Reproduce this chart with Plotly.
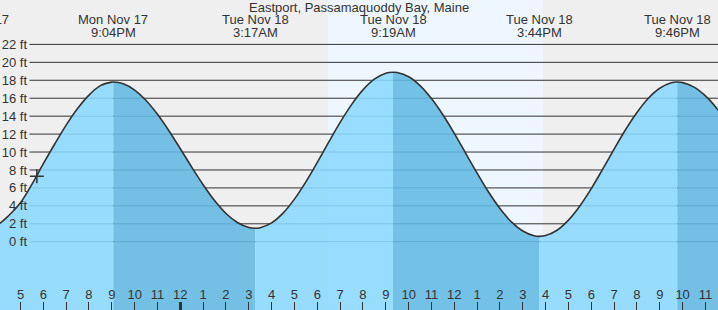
import pandas as pd
import plotly.graph_objects as go

title = "Eastport, Passamaquoddy Bay, Maine"

# Tide height (ft), every half hour
times = [
    "2025-11-17 16:00", "2025-11-17 16:30", "2025-11-17 17:00", "2025-11-17 17:30",
    "2025-11-17 18:00", "2025-11-17 18:30", "2025-11-17 19:00", "2025-11-17 19:30",
    "2025-11-17 20:00", "2025-11-17 20:30", "2025-11-17 21:00", "2025-11-17 21:30",
    "2025-11-17 22:00", "2025-11-17 22:30", "2025-11-17 23:00", "2025-11-17 23:30",
    "2025-11-18 00:00", "2025-11-18 00:30", "2025-11-18 01:00", "2025-11-18 01:30",
    "2025-11-18 02:00", "2025-11-18 02:30", "2025-11-18 03:00", "2025-11-18 03:30",
    "2025-11-18 04:00", "2025-11-18 04:30", "2025-11-18 05:00", "2025-11-18 05:30",
    "2025-11-18 06:00", "2025-11-18 06:30", "2025-11-18 07:00", "2025-11-18 07:30",
    "2025-11-18 08:00", "2025-11-18 08:30", "2025-11-18 09:00", "2025-11-18 09:30",
    "2025-11-18 10:00", "2025-11-18 10:30", "2025-11-18 11:00", "2025-11-18 11:30",
    "2025-11-18 12:00", "2025-11-18 12:30", "2025-11-18 13:00", "2025-11-18 13:30",
    "2025-11-18 14:00", "2025-11-18 14:30", "2025-11-18 15:00", "2025-11-18 15:30",
    "2025-11-18 16:00", "2025-11-18 16:30", "2025-11-18 17:00", "2025-11-18 17:30",
    "2025-11-18 18:00", "2025-11-18 18:30", "2025-11-18 19:00", "2025-11-18 19:30",
    "2025-11-18 20:00", "2025-11-18 20:30", "2025-11-18 21:00", "2025-11-18 21:30",
    "2025-11-18 22:00", "2025-11-18 22:30", "2025-11-18 23:00", "2025-11-18 23:30",
    "2025-11-19 00:00",
]
heights = [
    1.9, 2.95, 4.35, 6.4,
    8.7, 10.9, 13.0, 14.85,
    16.35, 17.4, 17.79, 17.61,
    16.91, 15.75, 14.21, 12.38,
    10.37, 8.32, 6.36, 4.59,
    3.15, 2.14, 1.58, 1.56,
    2.10, 3.19, 4.75, 6.68,
    8.85, 11.11, 13.31, 15.29,
    16.93, 18.12, 18.78, 18.86,
    18.39, 17.41, 15.96, 14.15,
    12.08, 9.86, 7.65, 5.54,
    3.70, 2.21, 1.19, 0.66,
    0.69, 1.28, 2.41, 3.99,
    5.92, 8.09, 10.32, 12.48,
    14.41, 16.0, 17.11, 17.72,
    17.74, 17.24, 16.26, 14.86,
    13.12,
]

# High / low tides
ext_times = ["2025-11-17 14:59", "2025-11-17 21:04", "2025-11-18 03:17",
             "2025-11-18 09:19", "2025-11-18 15:44", "2025-11-18 21:46"]
ext_heights = [1.0, 17.8, 1.5, 18.9, 0.6, 17.8]
ext_types = ["low", "high", "low", "high", "low", "high"]

day_starts = ["2025-11-18 00:00"]
sunrise = "2025-11-18 06:28"
sunset = "2025-11-18 15:53"
now_time = "2025-11-17 17:43"
now_height = 7.3

y_ticks = [0, 2, 4, 6, 8, 10, 12, 14, 16, 18, 20, 22]
y_tick_labels = [f"{v} ft" for v in y_ticks]

x_range = ["2025-11-17 16:06:10", "2025-11-18 23:33"]
y_range = [-7.61, 26.95]

W, H = 718, 310
FONT = "Liberation Sans, Arial, sans-serif"
TXT = "#333333"
BG = "#efefef"
DAY = "#eef7ff"
RISE = "rgba(140,218,255,0.88)"
FALL = "rgba(99,186,228,0.88)"
GRID_START = 29.5 / W
LABEL_POS = 27.0 / W

df = pd.DataFrame({"t": pd.to_datetime(times + ext_times), "h": heights + ext_heights})
df = df.sort_values("t").reset_index(drop=True)
ext = pd.DataFrame({"t": pd.to_datetime(ext_times), "h": ext_heights, "k": ext_types})

fig = go.Figure()
baseline = y_range[0] - 1
bounds = list(ext["t"]) + [df["t"].max()]
kinds = list(ext["k"])
for i in range(len(bounds) - 1):
    seg = df[(df["t"] >= bounds[i]) & (df["t"] <= bounds[i + 1])]
    if len(seg) < 2:
        continue
    color = FALL if kinds[i] == "high" else RISE
    fig.add_trace(go.Scatter(x=[seg["t"].iloc[0], seg["t"].iloc[-1]], y=[baseline, baseline],
                             mode="lines", line=dict(width=0), hoverinfo="skip"))
    fig.add_trace(go.Scatter(x=seg["t"], y=seg["h"], mode="lines", fill="tonexty",
                             fillcolor=color, line=dict(width=0, shape="spline", smoothing=1.0),
                             hoverinfo="skip"))

fig.add_trace(go.Scatter(x=df["t"], y=df["h"], mode="lines",
                         line=dict(color=TXT, width=1.6, shape="spline", smoothing=1.0)))
fig.add_trace(go.Scatter(x=[now_time], y=[now_height], mode="markers",
                         marker=dict(symbol="cross-thin", size=10, line=dict(width=1.5, color=TXT))))

shapes = [dict(type="rect", xref="x", yref="paper", x0=sunrise, x1=sunset, y0=0, y1=1,
               fillcolor=DAY, line=dict(width=0), layer="below")]
for v in y_ticks:
    shapes.append(dict(type="line", xref="paper", yref="y", x0=GRID_START, x1=1, y0=v, y1=v,
                       line=dict(color=TXT, width=1), layer="below"))

annotations = [dict(text=title, xref="paper", yref="paper", x=0.5, y=1 - 7.5 / H,
                    xanchor="center", yanchor="middle", showarrow=False,
                    font=dict(family=FONT, size=13, color=TXT))]
x0, x1 = pd.Timestamp(x_range[0]), pd.Timestamp(x_range[1])
for t in ext["t"]:
    if x0 <= t <= x1:
        xr, xv = "x", t
    else:
        xr, xv = "paper", (t - x0) / (x1 - x0)
    for txt, yy in ((t.strftime("%a %b %-d"), 20), (t.strftime("%-I:%M%p"), 32.5)):
        annotations.append(dict(text=txt, xref=xr, x=xv, yref="paper", y=1 - yy / H,
                                xanchor="center", yanchor="middle", showarrow=False,
                                font=dict(family=FONT, size=13, color=TXT)))

fig.update_layout(
    width=W, height=H, margin=dict(l=0, r=0, t=0, b=0),
    template="none", showlegend=False,
    paper_bgcolor=BG, plot_bgcolor=BG,
    shapes=shapes, annotations=annotations,
    xaxis=dict(type="date", range=x_range, tick0="2025-11-17 00:00", dtick=3600000,
               tickformat="%-I", ticks="inside", ticklen=8, tickcolor=TXT, tickwidth=1,
               ticklabelposition="inside", showgrid=False, zeroline=False, showline=False,
               automargin=False, tickfont=dict(family=FONT, size=13, color=TXT)),
    xaxis2=dict(type="date", overlaying="x", matches="x", anchor="y", tickvals=day_starts,
                ticks="inside", ticklen=8, tickwidth=3, tickcolor=TXT, showticklabels=False,
                showgrid=False, zeroline=False, showline=False, automargin=False),
    yaxis=dict(range=y_range, showgrid=False, zeroline=False, showticklabels=False,
               showline=False, automargin=False),
    yaxis2=dict(range=y_range, overlaying="y", anchor="free", position=LABEL_POS, side="left",
                tickvals=y_ticks, ticktext=y_tick_labels, ticks="", showgrid=False,
                zeroline=False, showline=False, automargin=False,
                tickfont=dict(family=FONT, size=13, color=TXT)),
)
fig.add_trace(go.Scatter(x=[None], y=[None], xaxis="x2", yaxis="y2", showlegend=False))

fig.write_html("out.html")
